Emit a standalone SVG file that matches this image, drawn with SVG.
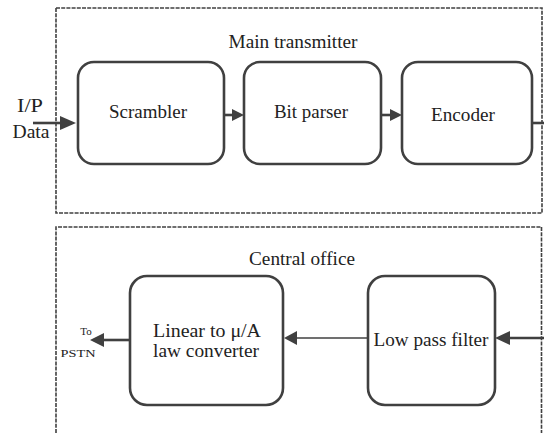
<svg xmlns="http://www.w3.org/2000/svg" width="544" height="433" viewBox="0 0 544 433">
<style>
.frame{fill:none;stroke:#404040;stroke-width:1.6;stroke-dasharray:4 1.2}
.box{fill:#fff;stroke:#404040;stroke-width:2.6}
text{font-family:"Liberation Serif","Times New Roman","DejaVu Serif",serif;fill:#222;text-anchor:middle}
.t{font-size:19px}
.s{font-size:11px}
.ln{fill:none;stroke:#404040;stroke-width:2.6}
.thin{fill:none;stroke:#404040;stroke-width:1.4}
.ah{fill:#404040}
</style>
<g id="main-transmitter">
<rect class="frame" x="56" y="8" width="486" height="205"/>
<text class="t" x="293" y="48" textLength="129" lengthAdjust="spacingAndGlyphs">Main transmitter</text>
</g>
<g id="central-office">
<path class="frame" d="M56,433 V227 H541.5 V433"/>
<text class="t" x="302" y="265" textLength="106" lengthAdjust="spacingAndGlyphs">Central office</text>
</g>
<g id="scrambler">
<rect class="box" x="78" y="62" width="146" height="102" rx="16"/>
<text class="t" x="148" y="118" textLength="78" lengthAdjust="spacingAndGlyphs">Scrambler</text>
</g>
<g id="bit-parser">
<rect class="box" x="244" y="62" width="137" height="102" rx="16"/>
<text class="t" x="311" y="118" textLength="74" lengthAdjust="spacingAndGlyphs">Bit parser</text>
</g>
<g id="encoder">
<rect class="box" x="402" y="62" width="130" height="102" rx="16"/>
<text class="t" x="463" y="121" textLength="64" lengthAdjust="spacingAndGlyphs">Encoder</text>
</g>
<g id="linear-converter">
<rect class="box" x="130" y="276" width="153" height="129" rx="17"/>
<text class="t" x="207" y="337" textLength="108" lengthAdjust="spacingAndGlyphs">Linear to μ/A</text>
<text class="t" x="206" y="357" textLength="106" lengthAdjust="spacingAndGlyphs">law converter</text>
</g>
<g id="low-pass-filter">
<rect class="box" x="368" y="276" width="127" height="129" rx="17"/>
<text class="t" x="431" y="346" textLength="115" lengthAdjust="spacingAndGlyphs">Low pass filter</text>
</g>
<g id="io-labels">
<text class="t" x="30" y="112" textLength="26" lengthAdjust="spacingAndGlyphs">I/P</text>
<text class="t" x="31" y="138" textLength="37" lengthAdjust="spacingAndGlyphs">Data</text>
<text class="s" x="86" y="335">To</text>
<text class="s" x="78" y="357" textLength="35" lengthAdjust="spacingAndGlyphs">PSTN</text>
</g>
<g id="connectors">
<line class="ln" x1="33" y1="123" x2="62" y2="123"/>
<polygon class="ah" points="60,116 76,123 60,130"/>
<line class="ln" x1="224" y1="115" x2="234" y2="115"/>
<polygon class="ah" points="232,109 244,115 232,121"/>
<line class="ln" x1="381" y1="115" x2="391" y2="115"/>
<polygon class="ah" points="390,109 402,115 390,121"/>
<line class="ln" x1="532" y1="123" x2="544" y2="123"/>
<line class="ln" x1="544" y1="338" x2="507" y2="338"/>
<polygon class="ah" points="510,331 495,338 510,345"/>
<line class="thin" x1="368" y1="338" x2="295" y2="338"/>
<polygon class="ah" points="297,331 284,338 297,345"/>
<line class="ln" x1="130" y1="340" x2="101" y2="340"/>
<polygon class="ah" points="104,333 90,340 104,347"/>
</g>
</svg>
